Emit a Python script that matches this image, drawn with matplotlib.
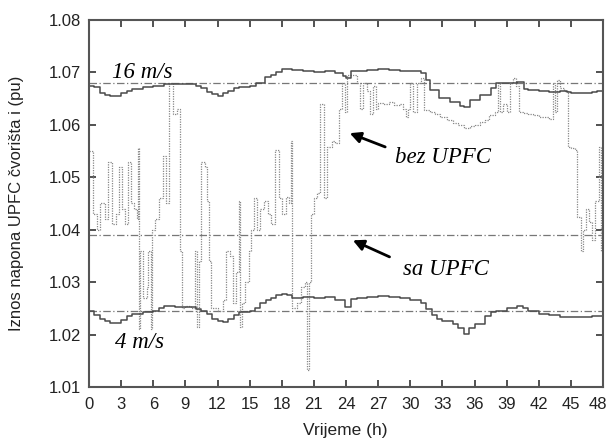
import numpy as np
import matplotlib.pyplot as plt
from matplotlib.transforms import ScaledTranslation

# vrijeme (h) i napon (pu) ocitani sa slike
t_16 = [0, 0.5, 1, 1.5, 2, 2.5, 3, 3.5, 4, 5, 6, 7, 8, 9, 10, 10.5, 11, 11.5, 12, 12.5,
        13, 13.5, 14, 15, 15.6, 16.4, 17, 17.5, 18, 19, 20, 21, 22, 23, 23.7, 24, 24.5,
        25, 26, 27, 28, 29, 30, 31, 31.5, 31.8, 32.7, 33.7, 34.6, 35, 35.6, 36.5, 37.5,
        38, 39, 40, 40.6, 41, 42, 43, 44, 44.6, 45, 46, 47, 47.4, 48]
v_16 = [1.0675, 1.0672, 1.0660, 1.0657, 1.0655, 1.0655, 1.0660, 1.0665, 1.0668, 1.0672,
        1.0675, 1.0677, 1.0677, 1.0678, 1.0675, 1.0670, 1.0663, 1.0658, 1.0655, 1.0660,
        1.0665, 1.0670, 1.0672, 1.0675, 1.0680, 1.0691, 1.0695, 1.0700, 1.0707, 1.0704,
        1.0702, 1.0700, 1.0702, 1.0699, 1.0693, 1.0690, 1.0702, 1.0703, 1.0705, 1.0706,
        1.0705, 1.0703, 1.0702, 1.0698, 1.0685, 1.0666, 1.0651, 1.0643, 1.0636, 1.0634,
        1.0647, 1.0657, 1.0670, 1.0679, 1.0680, 1.0682, 1.0668, 1.0666, 1.0665, 1.0663,
        1.0665, 1.0663, 1.0661, 1.0660, 1.0662, 1.0664, 1.0669]

t_4 = [0, 0.5, 1, 1.5, 2, 2.5, 3, 3.5, 4, 5, 6, 6.5, 7, 8, 9, 10, 10.5, 11, 11.5, 12,
       12.5, 13, 13.5, 14, 15, 15.5, 16, 16.5, 17, 17.5, 18, 18.5, 19, 20, 21, 22, 23,
       23.9, 24.5, 25, 26, 27, 28, 29, 30, 31, 31.5, 32, 32.5, 33, 34, 34.5, 35, 35.5,
       36, 37, 37.5, 38, 39, 40, 40.5, 41, 42, 43, 44, 45, 46, 47, 48]
v_4 = [1.0245, 1.0238, 1.0230, 1.0225, 1.0223, 1.0223, 1.0227, 1.0235, 1.0240, 1.0243,
       1.0245, 1.0250, 1.0255, 1.0253, 1.0253, 1.0248, 1.0245, 1.0240, 1.0230, 1.0225,
       1.0224, 1.0230, 1.0238, 1.0243, 1.0245, 1.0250, 1.0260, 1.0265, 1.0270, 1.0275,
       1.0278, 1.0275, 1.0270, 1.0272, 1.0270, 1.0272, 1.0265, 1.0253, 1.0268, 1.0270,
       1.0272, 1.0274, 1.0272, 1.0270, 1.0265, 1.0260, 1.0248, 1.0238, 1.0230, 1.0225,
       1.0220, 1.0212, 1.0202, 1.0212, 1.0220, 1.0235, 1.0243, 1.0245, 1.0250, 1.0255,
       1.0250, 1.0245, 1.0240, 1.0237, 1.0233, 1.0234, 1.0233, 1.0235, 1.0238]

# promjenjivi vjetar, bez UPFC
t_bez = [0.0, 0.4, 0.7, 1.0, 1.5, 1.8, 2.1, 2.5, 2.8, 3.1, 3.4, 3.6, 3.9, 4.2, 4.5, 4.6,
         4.7, 4.8, 5.0, 5.4, 5.5, 5.8, 5.9, 6.2, 6.5, 6.9, 7.2, 7.5, 7.8, 8.2, 8.5, 8.7,
         9.0, 9.5, 9.9, 10.1, 10.3, 10.5, 10.8, 11.0, 11.2, 11.4, 12.0, 12.5, 12.8, 13.2,
         13.4, 13.7, 14.0, 14.1, 14.3, 14.6, 14.9, 15.1, 15.4, 15.7, 16.0, 16.3, 16.7,
         17.0, 17.4, 17.7, 18.0, 18.4, 18.7, 18.9, 19.0, 19.4, 19.8, 20.2, 20.4, 20.5,
         20.7, 21.0, 21.3, 21.6, 21.9, 22.2, 22.7, 23.0, 23.3, 23.6, 23.9, 24.1, 25.0,
         25.3, 25.6, 26.0, 26.2, 26.5, 26.8, 27.0, 27.5, 28.0, 28.5, 29.0, 29.3, 29.6,
         29.8, 30.0, 30.3, 30.6, 31.0, 31.3, 31.8, 32.3, 32.8, 33.4, 34.0, 34.5, 35.0,
         35.6, 36.0, 36.5, 37.0, 37.4, 37.9, 38.2, 38.4, 38.7, 39.0, 39.3, 39.6, 39.9,
         40.2, 40.5, 41.0, 41.5, 42.0, 42.5, 43.0, 43.3, 43.5, 43.7, 44.0, 44.4, 44.7,
         45.0, 45.4, 45.6, 45.9, 46.1, 46.4, 46.7, 47.0, 47.3, 47.6, 47.8, 48.0]
v_bez = [1.0550, 1.0430, 1.0400, 1.0450, 1.0420, 1.0530, 1.0410, 1.0430, 1.0520, 1.0440,
         1.0410, 1.0530, 1.0450, 1.0440, 1.0420, 1.0555, 1.0210, 1.0360, 1.0270, 1.0290,
         1.0360, 1.0210, 1.0400, 1.0420, 1.0460, 1.0540, 1.0450, 1.0680, 1.0620, 1.0630,
         1.0360, 1.0250, 1.0255, 1.0250, 1.0360, 1.0215, 1.0340, 1.0530, 1.0520, 1.0455,
         1.0340, 1.0250, 1.0245, 1.0265, 1.0360, 1.0350, 1.0260, 1.0320, 1.0455, 1.0215,
         1.0260, 1.0300, 1.0360, 1.0400, 1.0460, 1.0400, 1.0440, 1.0455, 1.0430, 1.0410,
         1.0552, 1.0460, 1.0430, 1.0463, 1.0450, 1.0570, 1.0250, 1.0260, 1.0290, 1.0300,
         1.0133, 1.0300, 1.0430, 1.0460, 1.0470, 1.0640, 1.0460, 1.0558, 1.0570, 1.0565,
         1.0630, 1.0680, 1.0625, 1.0695, 1.0680, 1.0630, 1.0680, 1.0665, 1.0620, 1.0675,
         1.0630, 1.0642, 1.0640, 1.0643, 1.0638, 1.0640, 1.0630, 1.0615, 1.0630, 1.0680,
         1.0625, 1.0680, 1.0690, 1.0628, 1.0625, 1.0620, 1.0615, 1.0610, 1.0603, 1.0600,
         1.0594, 1.0597, 1.0600, 1.0605, 1.0610, 1.0618, 1.0625, 1.0680, 1.0625, 1.0640,
         1.0625, 1.0680, 1.0690, 1.0675, 1.0625, 1.0622, 1.0620, 1.0618, 1.0615, 1.0615,
         1.0612, 1.0680, 1.0625, 1.0685, 1.0670, 1.0665, 1.0558, 1.0555, 1.0552, 1.0425,
         1.0360, 1.0400, 1.0440, 1.0415, 1.0380, 1.0455, 1.0558, 1.0360, 1.0375]

# sa UPFC - konstantni naponi
v_sa_16 = 1.0679
v_sa_var = 1.0390
v_sa_4 = 1.0245

x_ticks = list(range(0, 49, 3))
y_ticks = [1.01, 1.02, 1.03, 1.04, 1.05, 1.06, 1.07, 1.08]

fig = plt.figure(figsize=(6.1, 4.42), dpi=100)
ax = fig.add_axes([0.146, 0.1244, 0.8425, 0.8304])

# sa UPFC (crta-tocka)
for v in (v_sa_16, v_sa_var, v_sa_4):
    ax.axhline(v, color='#777777', linestyle=(0, (6, 2, 1, 2)), linewidth=0.9)

# bez UPFC, promjenjivi vjetar (tockasto)
ax.step(t_bez, v_bez, where='post', color='#888888', linestyle=(0, (1, 1)), linewidth=0.9)

# bez UPFC, 16 m/s i 4 m/s (puna linija)
ax.step(t_16, v_16, where='post', color='#4a4a4a', linewidth=1.1)
ax.step(t_4, v_4, where='post', color='#4a4a4a', linewidth=1.1)

ax.set_xlim(0, 48)
ax.set_ylim(1.01, 1.08)
ax.set_xticks(x_ticks)
ax.set_yticks(y_ticks)
ax.set_yticklabels([f'{y:.2f}' for y in y_ticks])
ax.tick_params(direction='in', top=True, right=True, length=5, width=1.2,
               labelsize=12, color='#333333', labelcolor='#222222')
ax.tick_params(axis='x', pad=7)
ax.tick_params(axis='y', pad=6)
for lbl in ax.get_xticklabels() + ax.get_yticklabels():
    lbl.set_fontfamily('Liberation Sans')
# zadnja oznaka (48) malo ulijevo da ne bude odrezana
last = ax.xaxis.get_major_ticks()[-1].label1
last.set_transform(last.get_transform() + ScaledTranslation(-4 / 72, 0, fig.dpi_scale_trans))
for s in ax.spines.values():
    s.set_linewidth(1.5)
    s.set_color('#555555')

ax.set_xlabel('Vrijeme (h)', fontsize=12.5, family='Liberation Sans', color='#222222')
ax.set_ylabel('Iznos napona UPFC čvorišta i (pu)', fontsize=12,
              family='Liberation Sans', color='#222222')
ax.xaxis.set_label_coords(0.498, -0.098)
ax.yaxis.set_label_coords(-0.126, 0.5)

serif = dict(family='Liberation Serif', style='italic', fontsize=16.5)
ax.text(2.1, 1.0700, '16 m/s', va='center', ha='left', **serif)
ax.text(2.4, 1.0185, '4 m/s', va='center', ha='left', **serif)
ax.text(28.6, 1.0537, 'bez UPFC', va='center', ha='left', **serif)
ax.text(29.3, 1.0325, 'sa UPFC', va='center', ha='left', **serif)

arrow = dict(arrowstyle='-|>', color='black', lw=2.0, mutation_scale=16)
ax.annotate('', xy=(24.1, 1.0586), xytext=(27.9, 1.0556), arrowprops=arrow)
ax.annotate('', xy=(24.4, 1.0382), xytext=(28.3, 1.0346), arrowprops=arrow)

fig.savefig('out.png', dpi=100)
